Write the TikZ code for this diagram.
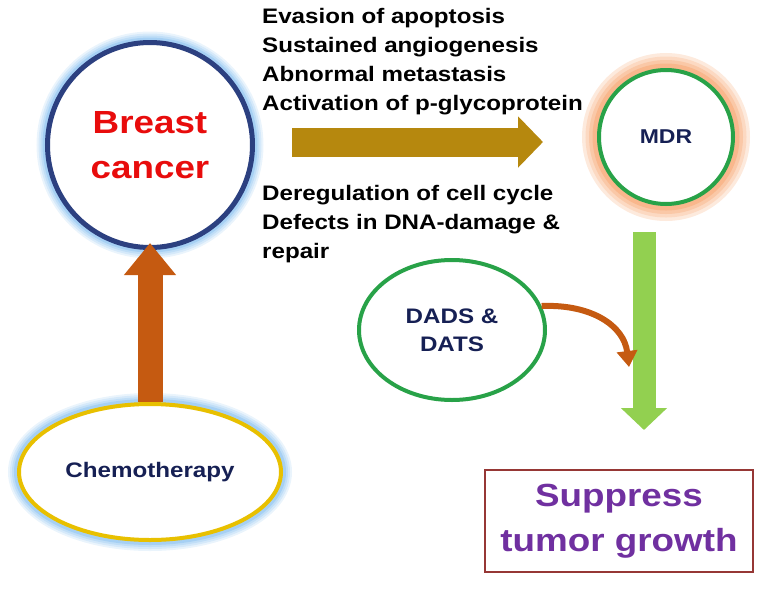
\documentclass[tikz,border=0pt]{standalone}
\usepackage{fontspec}
\setmainfont[FakeStretch=1.15]{Liberation Sans}
\usepackage{tikz}
\usetikzlibrary{arrows.meta,shapes.geometric,positioning}
\definecolor{ringBlue}{RGB}{44,64,128}
\definecolor{glowBlue}{RGB}{150,200,242}
\definecolor{glowOrange}{RGB}{248,170,120}
\definecolor{cancerRed}{RGB}{232,12,12}
\definecolor{navyText}{RGB}{22,32,84}
\definecolor{rustOrange}{RGB}{197,90,17}
\definecolor{darkGold}{RGB}{182,136,14}
\definecolor{ringGreen}{RGB}{40,162,72}
\definecolor{limeGreen}{RGB}{146,208,80}
\definecolor{ringGold}{RGB}{232,192,0}
\definecolor{boxRed}{RGB}{150,55,53}
\definecolor{growthPurple}{RGB}{112,48,160}

\begin{document}
\begin{tikzpicture}[x=1pt,y=-1pt,
  blueglow/.style={preaction={draw=glowBlue!20,line width=22pt},
                   preaction={draw=glowBlue!40,line width=18pt},
                   preaction={draw=glowBlue!60,line width=14pt},
                   preaction={draw=glowBlue!85,line width=10pt}},
  orangeglow/.style={preaction={draw=glowOrange!25,line width=34pt},
                     preaction={draw=glowOrange!45,line width=27pt},
                     preaction={draw=glowOrange!65,line width=20pt},
                     preaction={draw=glowOrange!85,line width=13pt}},
  bubble/.style={fill=white, align=center, font=\bfseries},
  listtext/.style={align=left, inner sep=0pt, anchor=north west,
                   font=\fontsize{21}{29}\selectfont\bfseries},
  fatarrow/.style={line width=#1}]
\useasboundingbox (0,0) rectangle (764,590);

\node[bubble, blueglow, circle, draw=ringBlue, line width=5pt, minimum size=205pt,
      text=cancerRed, font=\fontsize{32}{45}\selectfont\bfseries] (cancer) at (150,145) {Breast\\cancer};
\node[bubble, blueglow, ellipse, draw=ringGold, line width=4pt, minimum width=262pt,
      minimum height=136pt, text=navyText, font=\fontsize{21}{26}\selectfont\bfseries] (chemo) at (150,472) {Chemotherapy};
\node[bubble, orangeglow, circle, draw=ringGreen, line width=4pt, minimum size=134pt,
      text=navyText, font=\fontsize{20}{26}\selectfont\bfseries] (mdr) at (666,137) {MDR};
\node[bubble, ellipse, draw=ringGreen, line width=4pt, minimum width=186pt,
      minimum height=140pt, text=navyText, font=\fontsize{21}{28}\selectfont\bfseries] (dads) at (452,330) {DADS \&\\DATS};
\node[draw=boxRed, line width=1.3pt, minimum width=268pt, minimum height=102pt, align=center,
      text=growthPurple, font=\fontsize{32}{45}\selectfont\bfseries] (supp) at (619,521) {Suppress\\tumor growth};

\node[listtext] (hallmarks) at (262,8) {Evasion of apoptosis\\Sustained angiogenesis\\Abnormal metastasis\\Activation of p-glycoprotein};
\node[listtext] (defects) at (262,185) {Deregulation of cell cycle\\Defects in DNA-damage \&\\repair};

\coordinate (goldStart) at (292,142);
\coordinate (goldEnd) at (543,142);
\coordinate (limeStart) at (644,232);
\coordinate (limeEnd) at (644,430);
\coordinate (hit) at (629,367);

\draw[rustOrange, fatarrow=25pt, -{Triangle[width=50pt,length=32pt]}, shorten >=-7pt] (chemo.north) -- (cancer.south);
\draw[darkGold, fatarrow=29pt, -{Triangle[width=50pt,length=25pt]}] (goldStart) -- (goldEnd);
\draw[limeGreen, fatarrow=23pt, -{Triangle[width=45pt,length=22pt]}] (limeStart) -- (limeEnd);
\draw[rustOrange, fatarrow=6pt, -{Triangle[width=20pt,length=16pt]}] (dads.15) .. controls (592,304) and (624,326) .. (hit);
\end{tikzpicture}
\end{document}
